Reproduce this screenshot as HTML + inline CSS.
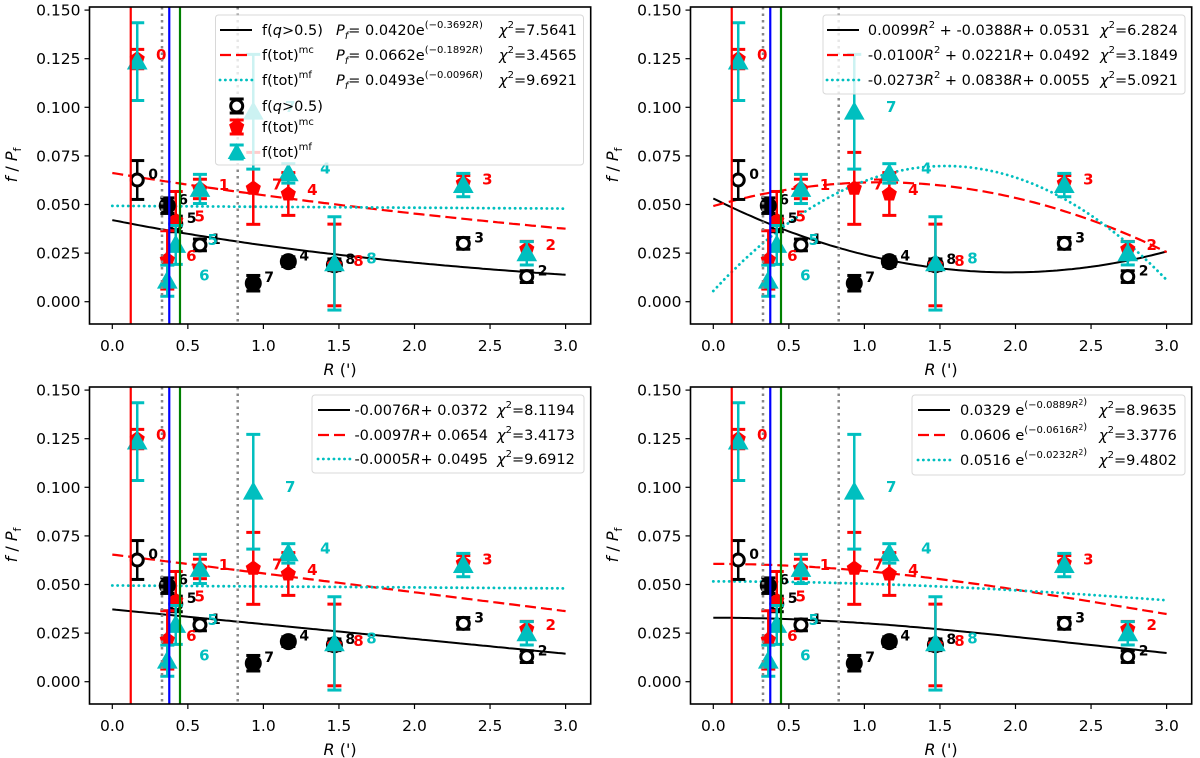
<!DOCTYPE html>
<html><head><meta charset="utf-8"><style>
html,body{margin:0;padding:0;background:#fff}
svg{display:block;font-family:"DejaVu Sans","Liberation Sans",sans-serif}
</style></head><body>
<svg id="chart" width="1200" height="758" viewBox="0 0 1200 758" xmlns="http://www.w3.org/2000/svg"></svg>
<script>
// ---- data ----
const ptR = [0.165, 0.58, 2.743, 2.323, 1.165, 0.42, 0.364, 0.933, 1.47];
const blackV = [0.0626, 0.0292, 0.0129, 0.0300, 0.0206, 0.0400, 0.0494, 0.0095, 0.0190];
const blackE = [0.0100, 0.0030, 0.0030, 0.0030, 0.0025, 0.0040, 0.0040, 0.0040, 0.0030];
const blackFilled = [false, false, false, false, true, false, true, true, true];
const redV = [0.1248, 0.0580, 0.0270, 0.0609, 0.0554, 0.0417, 0.0215, 0.0583, 0.0189];
const redE = [0.0050, 0.0050, 0.0040, 0.0040, 0.0110, 0.0150, 0.0150, 0.0185, 0.0210];
const cyanV = [0.1235, 0.0580, 0.0249, 0.0600, 0.0660, 0.0292, 0.0108, 0.0977, 0.0197];
const cyanE = [0.0200, 0.0075, 0.0060, 0.0060, 0.0050, 0.0100, 0.0080, 0.0295, 0.0240];
const pointLabels = ['0','1','2','3','4','5','6','7','8'];
const cyanLabelShown = [false,false,false,false,true,true,true,true,true];
const vlinesR = [0.122, 0.329, 0.377, 0.448, 0.830];
const vlineColor = ['#ff0000','#888888','#0000ff','#008000','#888888'];
const xTicks = [0, 0.5, 1, 1.5, 2, 2.5, 3];
const xTickLabels = ['0.0','0.5','1.0','1.5','2.0','2.5','3.0'];
const yTicks = [0, 0.025, 0.05, 0.075, 0.1, 0.125, 0.15];
const yTickLabels = ['0.000','0.025','0.050','0.075','0.100','0.125','0.150'];
// fit params
const expA = [0.0420, 0.0662, 0.0493], expB = [0.3692, 0.1892, 0.0096], expChi = ['7.5641','3.4565','9.6921'];
const quadA = [0.0099, -0.0100, -0.0273], quadB = [-0.0388, 0.0221, 0.0838], quadC = [0.0531, 0.0492, 0.0055], quadChi = ['6.2824','3.1849','5.0921'];
const linA = [-0.0076, -0.0097, -0.0005], linB = [0.0372, 0.0654, 0.0495], linChi = ['8.1194','3.4173','9.6912'];
const gA = [0.0329, 0.0606, 0.0516], gB = [0.0889, 0.0616, 0.0232], gChi = ['8.9635','3.3776','9.4802'];

const NS = 'http://www.w3.org/2000/svg';
const svg = document.getElementById('chart');
function mk(tag, attrs, parent) {
  const e = document.createElementNS(NS, tag);
  for (const k in attrs) e.setAttribute(k, attrs[k]);
  (parent || svg).appendChild(e);
  return e;
}
const RED = '#ff0000', CYAN = '#00bfbf';
const curveStyle = [
  {stroke:'#000', 'stroke-width':2, fill:'none'},
  {stroke:RED, 'stroke-width':2.2, fill:'none', 'stroke-dasharray':'11,5'},
  {stroke:CYAN, 'stroke-width':2.8, fill:'none', 'stroke-dasharray':'0.1,5.2', 'stroke-linecap':'round'}
];

function pentagon(cx, cy, r) {
  let p = [];
  for (let i = 0; i < 5; i++) { const a = -Math.PI/2 + i*2*Math.PI/5; p.push((cx + r*Math.cos(a)).toFixed(1)+','+(cy + r*Math.sin(a)).toFixed(1)); }
  return p.join(' ');
}
function triangle(cx, cy, r) {
  return [cx+','+(cy-r), (cx-r*0.9)+','+(cy+r*0.6), (cx+r*0.9)+','+(cy+r*0.6)].join(' ');
}
function errbar(g, x, y1, y2, color) {
  const l = mk('line', {x1:x, x2:x, y1:y1, y2:y2, stroke:color, 'stroke-width':2.5}, g);
  
  
  mk('line', {x1:x-7, x2:x+7, y1:y1, y2:y1, stroke:color, 'stroke-width':3}, g);
  mk('line', {x1:x-7, x2:x+7, y1:y2, y2:y2, stroke:color, 'stroke-width':3}, g);
}

function panel(ox, oy, idx, fitFn, legendFn) {
  const g = mk('g', {});
  
  
  const px = R => ox + 112.3 + 151.1 * R;
  const py = v => oy + 301.7 - 1944 * v;
  const L = ox + 89.5, Rt = ox + 590.7, T = oy + 7, B = oy + 324;
  const clipId = 'clip' + idx;
  const cp = mk('clipPath', {id: clipId}, g);
  mk('rect', {x:L, y:T, width:Rt-L, height:B-T}, cp);
  const plot = mk('g', {'clip-path':'url(#'+clipId+')'}, g);
  for (let s = 0; s < 3; s++) {
    let d = '';
    for (let i = 0; i <= 120; i++) { const R = 3 * i / 120; d += (i ? 'L' : 'M') + px(R).toFixed(1) + ',' + py(fitFn(s, R)).toFixed(1); }
    const p = mk('path', Object.assign({d: d}, curveStyle[s]), plot);
    
    
  }
  for (let i = 0; i < ptR.length; i++) {
    const x = px(ptR[i]);
    errbar(plot, x, py(blackV[i] + blackE[i]), py(blackV[i] - blackE[i]), '#000');
    const c = mk('circle', {cx:x, cy:py(blackV[i]), r:blackFilled[i] ? 7 : 6, fill:blackFilled[i] ? '#000' : '#fff', stroke:'#000', 'stroke-width':3}, plot);
    
    
    errbar(plot, x, py(redV[i] + redE[i]), py(redV[i] - redE[i]), RED);
    const p = mk('polygon', {points:pentagon(x, py(redV[i]), 8), fill:RED}, plot);
    
    
    errbar(plot, x, py(cyanV[i] + cyanE[i]), py(cyanV[i] - cyanE[i]), CYAN);
    const t = mk('polygon', {points:triangle(x, py(cyanV[i]) + 1, 11.5), fill:CYAN}, plot);
    
    
  }
  for (let i = 0; i < ptR.length; i++) {
    const x = px(ptR[i]);
    const tb = mk('text', {x:x+11, y:py(blackV[i]) - 1, 'font-size':14, 'font-weight':'bold', fill:'#000'}, plot);
    tb.textContent = pointLabels[i];
    
    
    const tr = mk('text', {x:x+24, y:py(redV[i]) + 1, 'font-size':15, 'font-weight':'bold', fill:RED, 'text-anchor':'middle'}, plot);
    tr.textContent = pointLabels[i];
    
    
    if (cyanLabelShown[i]) {
      const tc = mk('text', {x:x+37, y:py(cyanV[i]) + 0, 'font-size':15, 'font-weight':'bold', fill:CYAN, 'text-anchor':'middle'}, plot);
      tc.textContent = pointLabels[i];
      
      
    }
  }
  for (let i = 0; i < vlinesR.length; i++) {
    const dotted = vlineColor[i] === '#888888';
    const l = mk('line', {x1:px(vlinesR[i]), x2:px(vlinesR[i]), y1:T, y2:B, stroke:vlineColor[i], 'stroke-width':dotted ? 2.5 : 2.2, 'stroke-dasharray':dotted ? '2.5,4' : 'none'}, plot);
    
    
  }
  legendFn(g, ox, oy);
  const fr = mk('rect', {x:L, y:T, width:Rt-L, height:B-T, fill:'none', stroke:'#000', 'stroke-width':1.6}, g);
  
  
  for (let i = 0; i < xTicks.length; i++) {
    const x = px(xTicks[i]);
    mk('line', {x1:x, x2:x, y1:B, y2:B+5, stroke:'#000', 'stroke-width':1.2}, g);
    const t = mk('text', {x:x, y:oy+351, 'font-size':15.5, 'text-anchor':'middle', fill:'#000'}, g);
    t.textContent = xTickLabels[i];
    
    
  }
  for (let i = 0; i < yTicks.length; i++) {
    const y = py(yTicks[i]);
    mk('line', {x1:L-5, x2:L, y1:y, y2:y, stroke:'#000', 'stroke-width':1.2}, g);
    const t = mk('text', {x:L-9, y:y+5.5, 'font-size':15.5, 'text-anchor':'end', fill:'#000'}, g);
    t.textContent = yTickLabels[i];
    
    
  }
  const xl = mk('text', {x:(L+Rt)/2, y:oy+375, 'font-size':16, 'text-anchor':'middle', fill:'#000'}, g);
  xl.innerHTML = '<tspan font-style="italic">R</tspan> (\')';
  
  
  const yl = mk('text', {x:0, y:0, 'font-size':16, 'text-anchor':'middle', fill:'#000', transform:'translate('+(ox+17)+','+(oy+165)+') rotate(-90)'}, g);
  yl.innerHTML = '<tspan font-style="italic">f</tspan> / <tspan font-style="italic">P</tspan><tspan font-size="11" dy="4">f</tspan>';
  
  
}

function legendBox(g, x, y, w, h) {
  const r = mk('rect', {x:x, y:y, width:w, height:h, rx:3, fill:'#fff', 'fill-opacity':0.8, stroke:'#d8d8d8', 'stroke-width':1}, g);
  
  
}
function legendLine(g, x, y, s) {
  mk('line', Object.assign({x1:x, x2:x+32, y1:y, y2:y}, curveStyle[s]), g);
}
function legText(g, x, y, html, anchor) {
  const t = mk('text', {x:x, y:y, 'font-size':14.5, fill:'#000', 'text-anchor':anchor || 'start'}, g);
  t.innerHTML = html;
  
  
  return t;
}
const chi = v => '<tspan font-style="italic">χ</tspan>' + '<tspan font-size="10" dy="-7">2</tspan><tspan dy="7">=' + v + '</tspan>';
const f4 = v => (v < 0 ? '-' : '') + Math.abs(v).toFixed(4);
const lbl = ['f(<tspan font-style="italic">q</tspan>&gt;0.5)', 'f(tot)<tspan font-size="10" dy="-7">mc</tspan>', 'f(tot)<tspan font-size="10" dy="-7">mf</tspan>'];

panel(0, 0, 1, (s, R) => expA[s] * Math.exp(-expB[s] * R), (g, ox, oy) => {
  legendBox(g, 215.5, 15, 368, 150);
  const ys = [35, 60, 85];
  for (let s = 0; s < 3; s++) {
    legendLine(g, 220, ys[s] - 5, s);
    legText(g, 262, ys[s], lbl[s]);
    legText(g, 336, ys[s], '<tspan font-style="italic">P</tspan><tspan font-size="10" dy="4" font-style="italic">f</tspan><tspan dy="-4">=  ' + expA[s].toFixed(4) + 'e</tspan><tspan font-size="10" dy="-7">(−' + expB[s].toFixed(4) + '<tspan font-style="italic">R</tspan>)</tspan>');
    legText(g, 499, ys[s], chi(expChi[s]));
  }
  const my = [106, 127, 152];
  const x = 236.7;
  errbar(g, x, my[0]-7, my[0]+7, '#000'); mk('circle', {cx:x, cy:my[0], r:6, fill:'#fff', stroke:'#000', 'stroke-width':3}, g);
  errbar(g, x, my[1]-7, my[1]+7, RED); mk('polygon', {points:pentagon(x, my[1], 8), fill:RED}, g);
  errbar(g, x, my[2]-7, my[2]+7, CYAN); mk('polygon', {points:triangle(x, my[2]+1, 10), fill:CYAN}, g);
  for (let s = 0; s < 3; s++) legText(g, 262, my[s] + 5, lbl[s]);
});
panel(601, 0, 2, (s, R) => quadA[s]*R*R + quadB[s]*R + quadC[s], (g, ox, oy) => {
  legendBox(g, 823, 15, 362, 79);
  const ys = [35, 60, 85];
  for (let s = 0; s < 3; s++) {
    legendLine(g, 827, ys[s] - 5, s);
    legText(g, 1090, ys[s], f4(quadA[s]) + '<tspan font-style="italic">R</tspan>' + '<tspan font-size="10" dy="-7">2</tspan><tspan dy="7"> + ' + (quadB[s] < 0 ? '' : ' ') + f4(quadB[s]) + '<tspan font-style="italic">R</tspan>+ ' + quadC[s].toFixed(4) + '</tspan>', 'end');
    legText(g, 1100, ys[s], chi(quadChi[s]));
  }
});
panel(0, 380, 3, (s, R) => linA[s]*R + linB[s], (g, ox, oy) => {
  legendBox(g, 312, 395, 272, 78);
  const ys = [415, 440, 464];
  for (let s = 0; s < 3; s++) {
    legendLine(g, 318, ys[s] - 5, s);
    legText(g, 488, ys[s], f4(linA[s]) + '<tspan font-style="italic">R</tspan>+ ' + linB[s].toFixed(4), 'end');
    legText(g, 497, ys[s], chi(linChi[s]));
  }
});
panel(601, 380, 4, (s, R) => gA[s] * Math.exp(-gB[s]*R*R), (g, ox, oy) => {
  legendBox(g, 912, 395, 273, 80);
  const ys = [415, 440, 465];
  for (let s = 0; s < 3; s++) {
    legendLine(g, 918, ys[s] - 5, s);
    legText(g, 960, ys[s], gA[s].toFixed(4) + ' e<tspan font-size="10" dy="-7">(−' + gB[s].toFixed(4) + '<tspan font-style="italic">R</tspan><tspan font-size="7.5" dy="-3">2</tspan>)</tspan>');
    legText(g, 1099, ys[s], chi(gChi[s]));
  }
});
</script>
</body></html>
